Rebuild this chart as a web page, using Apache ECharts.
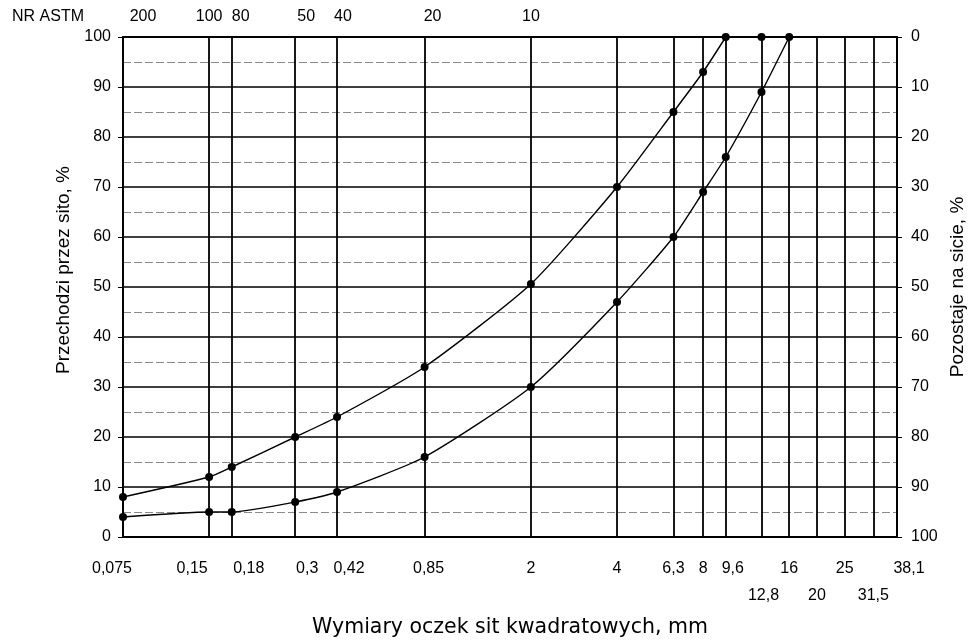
<!DOCTYPE html>
<html><head><meta charset="utf-8">
<script src="https://cdn.jsdelivr.net/npm/echarts@6/dist/echarts.min.js"></script>
<style>html,body{margin:0;padding:0;background:#fff}#c{width:974px;height:641px}</style>
</head><body><div id="c"></div>
<script>
// ---- data ----
const sieveSizes = [0.075, 0.15, 0.18, 0.3, 0.42, 0.85, 2, 4, 6.3, 8, 9.6, 12.8, 16, 20, 25, 31.5, 38.1];
const firstRowSizes = [0.075, 0.15, 0.18, 0.3, 0.42, 0.85, 2, 4, 6.3, 8, 9.6, 16, 25, 38.1];
const firstRowLabels = ['0,075', '0,15', '0,18', '0,3', '0,42', '0,85', '2', '4', '6,3', '8', '9,6', '16', '25', '38,1'];
const secondRowSizes = [12.8, 20, 31.5];
const secondRowLabels = ['12,8', '20', '31,5'];
const astmSizes = [0.075, 0.15, 0.18, 0.3, 0.42, 0.85, 2];
const astmLabels = ['200', '100', '80', '50', '40', '20', '10'];
const upperSizes = [0.075, 0.15, 0.18, 0.3, 0.42, 0.85, 2, 4, 6.3, 8, 9.6];
const upperPassing = [8, 12, 14, 20, 24, 34, 50.6, 70, 85, 93, 100];
const upperTailSizes = [12.8];
const upperTailPassing = [100];
const lowerSizes = [0.075, 0.15, 0.18, 0.3, 0.42, 0.85, 2, 4, 6.3, 8, 9.6, 12.8, 16];
const lowerPassing = [4, 5, 5, 7, 9, 16, 30, 47, 60, 69, 76, 89, 100];

// ---- label nudges (style only) ----
const firstRowShift = {'0,075': -11, '0,15': -17, '0,18': 17, '0,3': 12, '0,42': 12, '0,85': 4, '9,6': 7, '38,1': 12};
const secondRowShift = {'12,8': 2};
const astmShift = {'200': 20, '80': 9, '50': 11, '40': 6, '20': 8};

const FONT = '"Liberation Sans", Arial, sans-serif';
function findIdx(arr, v) {
  let best = 0, bd = Infinity;
  arr.forEach((a, i) => { const d = Math.abs(Math.log(a) - Math.log(v)); if (d < bd) { bd = d; best = i; } });
  return best;
}
function makeLabel(sizes, labels, shifts, margin) {
  const rich = {};
  labels.forEach((lab, i) => {
    const s = shifts[lab] || 0;
    rich['s' + i] = {
      fontSize: 16, fontFamily: FONT, color: '#000',
      padding: s >= 0 ? [0, 0, 0, 2 * s] : [0, -2 * s, 0, 0]
    };
  });
  return {
    show: true, customValues: sizes, margin: margin,
    fontSize: 16, fontFamily: FONT, color: '#000',
    formatter: v => { const i = findIdx(sizes, v); return '{s' + i + '|' + labels[i] + '}'; },
    rich: rich
  };
}
const toPairs = (xs, ys) => xs.map((x, i) => [x, ys[i]]);

const chart = echarts.init(document.getElementById('c'), null, {renderer: 'canvas'});
chart.setOption({
  animation: false,
  backgroundColor: '#fff',
  grid: {left: 123, right: 77, top: 37, bottom: 104, containLabel: false, outerBoundsMode: 'none'},
  graphic: [{
    type: 'text', left: 12, top: 9,
    style: {text: 'NR ASTM', fontSize: 16, fontFamily: FONT, fill: '#000'}
  }],
  xAxis: [{
    type: 'log', logBase: 10, min: 0.075, max: 38.1, position: 'bottom',
    name: 'Wymiary oczek sit kwadratowych, mm', nameLocation: 'middle', nameGap: 80,
    nameTextStyle: {fontSize: 20.5, fontFamily: '"DejaVu Sans", sans-serif', color: '#000'},
    axisLine: {show: true, lineStyle: {color: '#000', width: 2}},
    axisTick: {show: false, customValues: sieveSizes},
    splitLine: {show: true, lineStyle: {color: '#000', width: 1.8}},
    axisLabel: makeLabel(firstRowSizes, firstRowLabels, firstRowShift, 24)
  }, {
    type: 'log', logBase: 10, min: 0.075, max: 38.1, position: 'bottom',
    axisLine: {show: false}, axisTick: {show: false}, splitLine: {show: false},
    axisLabel: makeLabel(secondRowSizes, secondRowLabels, secondRowShift, 51)
  }, {
    type: 'log', logBase: 10, min: 0.075, max: 38.1, position: 'top',
    axisLine: {show: true, lineStyle: {color: '#000', width: 2}},
    axisTick: {show: false}, splitLine: {show: false},
    axisLabel: makeLabel(astmSizes, astmLabels, astmShift, 12)
  }],
  yAxis: [{
    type: 'value', min: 0, max: 100, interval: 10, position: 'left',
    name: 'Przechodzi przez sito, %', nameLocation: 'middle', nameGap: 45, nameRotate: 90,
    nameTextStyle: {fontSize: 19, fontFamily: FONT, color: '#000', padding: [0, 0, 0, 34]},
    axisLine: {show: true, lineStyle: {color: '#000', width: 2}},
    axisTick: {show: true, length: 5, lineStyle: {color: '#000', width: 1}},
    axisLabel: {margin: 12, fontSize: 16, fontFamily: FONT, color: '#000'},
    splitLine: {show: true, lineStyle: {color: '#000', width: 1.5}},
    minorTick: {show: false, splitNumber: 2},
    minorSplitLine: {show: true, lineStyle: {color: '#8a8a8a', width: 1, type: [8, 3]}}
  }, {
    type: 'value', min: 0, max: 100, interval: 10, position: 'right', inverse: true,
    name: 'Pozostaje na sicie, %', nameLocation: 'middle', nameGap: 50, nameRotate: 90,
    nameTextStyle: {fontSize: 19, fontFamily: FONT, color: '#000'},
    axisLine: {show: true, lineStyle: {color: '#000', width: 2}},
    axisTick: {show: true, length: 5, lineStyle: {color: '#000', width: 1}},
    axisLabel: {margin: 14, fontSize: 16, fontFamily: FONT, color: '#000'},
    splitLine: {show: false}
  }],
  series: [{
    name: 'upper', type: 'line', xAxisIndex: 0, yAxisIndex: 0,
    data: toPairs(upperSizes, upperPassing), smooth: 0.2,
    symbol: 'circle', symbolSize: 8,
    itemStyle: {color: '#000'}, lineStyle: {color: '#000', width: 1.4}, z: 5
  }, {
    name: 'upper-top', type: 'scatter', xAxisIndex: 0, yAxisIndex: 0,
    data: toPairs(upperTailSizes, upperTailPassing),
    symbol: 'circle', symbolSize: 8, itemStyle: {color: '#000', opacity: 1}, z: 5
  }, {
    name: 'lower', type: 'line', xAxisIndex: 0, yAxisIndex: 0,
    data: toPairs(lowerSizes, lowerPassing), smooth: 0.2,
    symbol: 'circle', symbolSize: 8,
    itemStyle: {color: '#000'}, lineStyle: {color: '#000', width: 1.4}, z: 5
  }]
});
</script></body></html>
